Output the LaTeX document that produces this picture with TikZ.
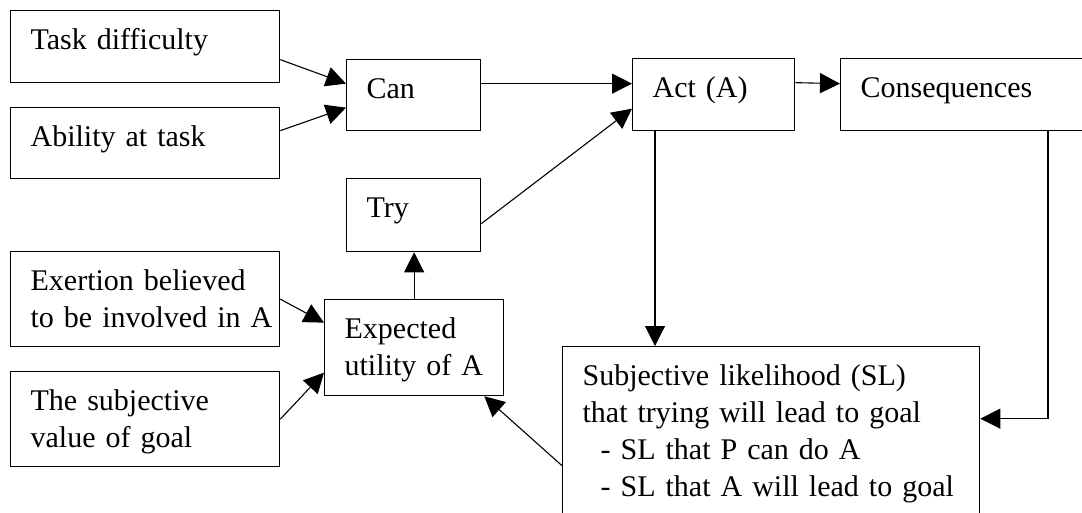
\documentclass[tikz,border=0pt]{standalone}
\usepackage{fontspec}
\setmainfont{Liberation Serif}
\usetikzlibrary{arrows.meta}
\begin{document}
\begin{tikzpicture}[x=1pt,y=-1pt,
  box/.style={draw, line width=1.3pt, anchor=north west, inner xsep=20pt, inner ysep=0pt,
    align=left, text height=39pt, font=\fontsize{30pt}{37pt}\selectfont},
  arr/.style={line width=1.1pt, -{Triangle[length=20pt,width=20pt]}}]
\useasboundingbox (0,0) rectangle (1082,512);
\fill[white] (0,0) rectangle (1082,512);
\clip (0,0) rectangle (1082,512);

\node[box, minimum width=269pt, minimum height=72pt, text width=229pt, text depth=33pt] (task) at (10,10) {Task difficulty};
\node[box, minimum width=269pt, minimum height=71pt, text width=229pt, text depth=32pt] (ability) at (10,107) {Ability at task};
\node[box, minimum width=134pt, minimum height=71pt, text width=94pt, text depth=32pt] (can) at (346,59) {Can};
\node[box, minimum width=134pt, minimum height=73pt, text width=94pt, text depth=34pt] (try) at (346,178) {Try};
\node[box, minimum width=162pt, minimum height=72pt, text width=122pt, text depth=33pt] (act) at (632,58) {Act (A)};
\node[box, minimum width=260pt, minimum height=72pt, text width=220pt, text depth=33pt] (cons) at (840,58) {Consequences};
\node[box, minimum width=269pt, minimum height=95pt, text width=229pt, text depth=56pt] (exert) at (10,251) {\mbox{Exertion believed}\\\mbox{to be involved in A}};
\node[box, minimum width=269pt, minimum height=95pt, text width=229pt, text depth=56pt] (subj) at (10,371) {The subjective\\value of goal};
\node[box, minimum width=179pt, minimum height=96pt, text width=139pt, text depth=57pt] (exp) at (324,299) {Expected\\utility of A};
\node[box, minimum width=417pt, minimum height=170pt, text width=377pt, text depth=131pt] (sl) at (562,346) {Subjective likelihood (SL)\\that trying will lead to goal\\\hspace*{18pt}- SL that P can do A\\\hspace*{18pt}- SL that A will lead to goal};

\draw[arr] ([yshift=-13pt]task.east) -- ([yshift=11.5pt]can.west);
\draw[arr] ([yshift=12.5pt]ability.east) -- ([yshift=-12.5pt]can.west);
\draw[arr] ([yshift=11.5pt]can.east) -- ([yshift=11pt]act.west);
\draw[arr] ([yshift=12pt]act.east) -- ([yshift=11pt]cons.west);
\draw[arr] ([yshift=-8.5pt]try.east) -- ([yshift=-14pt]act.west);
\draw[arr] (exp.north) -- (exp.north |- try.south);
\draw[arr] (exert.east) -- ([yshift=25pt]exp.west);
\draw[arr] (subj.east) -- ([yshift=-25pt]exp.west);
\coordinate (a1) at ([xshift=23pt]act.south west);
\draw[arr] (a1) -- (a1 |- sl.north);
\coordinate (c1) at ([xshift=208pt]cons.south west);
\draw[arr] (c1) |- ([yshift=13pt]sl.east);
\draw[arr] ([yshift=-34pt]sl.west) -- ([xshift=-20pt]exp.south east);
\end{tikzpicture}
\end{document}
